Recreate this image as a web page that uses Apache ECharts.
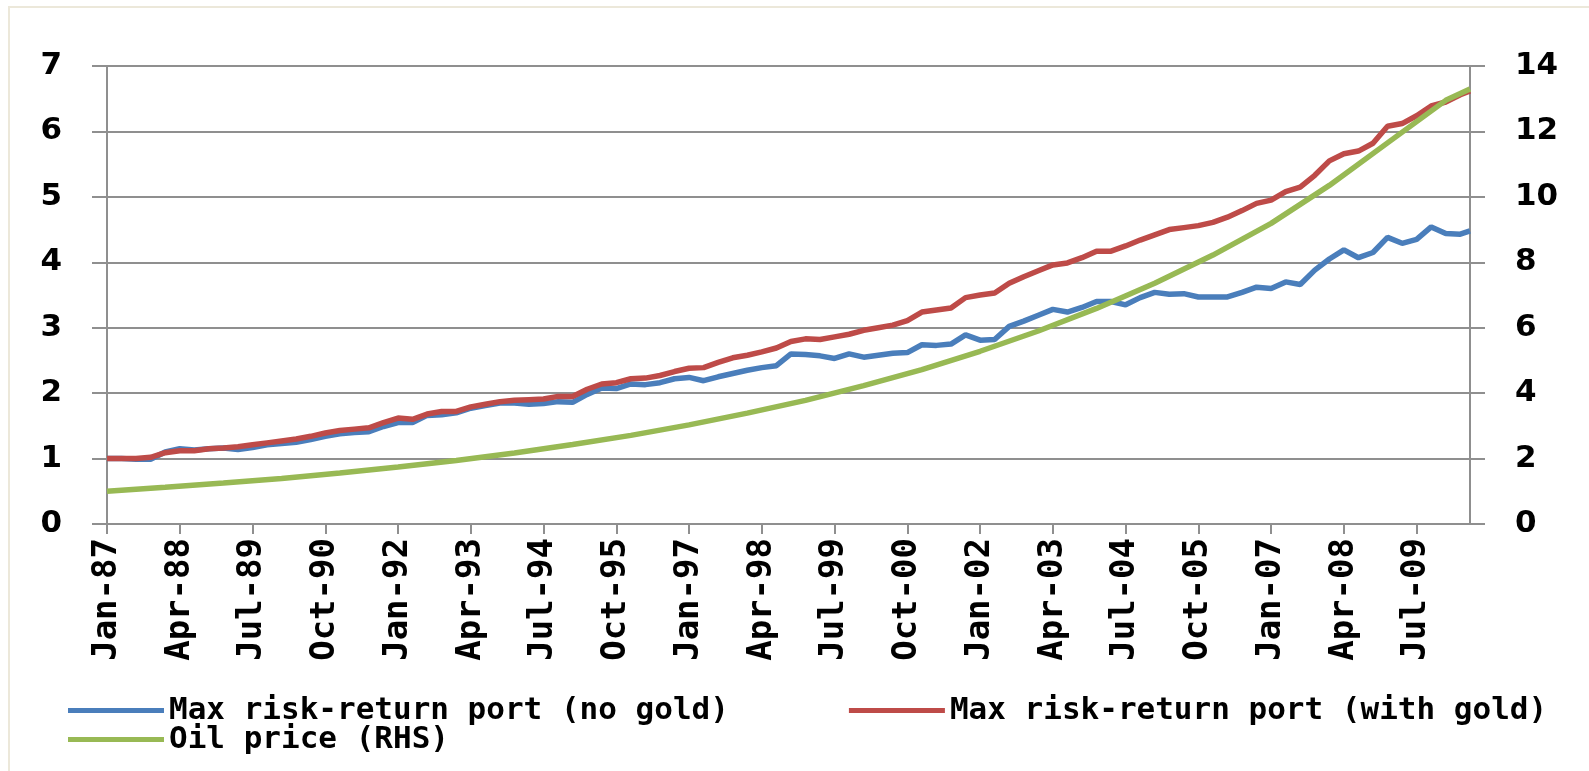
<!DOCTYPE html>
<html>
<head>
<meta charset="utf-8">
<title>Max risk-return portfolios vs oil price</title>
<script src="https://cdn.jsdelivr.net/npm/echarts@6.0.0/dist/echarts.min.js"></script>
<style>
  html, body { margin: 0; padding: 0; background: #fff; }
  #frame { position: absolute; left: 8px; top: 6px; right: 0; bottom: 0; border-left: 2px solid #ece8da; border-top: 2px solid #ece8da; }
  #chart { position: absolute; left: 0; top: 0; width: 1589px; height: 771px; }
</style>
</head>
<body>
<div id="frame"></div>
<div id="chart"></div>
<script>
// month index (0 = Jan-87) of each value
var readMonths = [
  0, 3, 6, 9, 12, 15, 18, 21, 24, 27, 30, 33, 36, 39, 42, 45, 48, 51, 54, 57,
  60, 63, 66, 69, 72, 75, 78, 81, 84, 87, 90, 93, 96, 99, 102, 105, 108, 111, 114, 117,
  120, 123, 126, 129, 132, 135, 138, 141, 144, 147, 150, 153, 156, 159, 162, 165, 168, 171, 174, 177,
  180, 183, 186, 189, 192, 195, 198, 201, 204, 207, 210, 213, 216, 219, 222, 225, 228, 231, 234, 237,
  240, 243, 246, 249, 252, 255, 258, 261, 264, 267, 270, 273, 276, 279, 281
];

var noGold = [
  1.00, 1.00, 0.99, 0.99, 1.10, 1.15, 1.13, 1.15, 1.16, 1.14,
  1.17, 1.21, 1.23, 1.25, 1.29, 1.34, 1.38, 1.40, 1.41, 1.49,
  1.55, 1.55, 1.66, 1.67, 1.70, 1.77, 1.81, 1.85, 1.85, 1.83,
  1.84, 1.87, 1.86, 1.98, 2.08, 2.07, 2.14, 2.13, 2.16, 2.22,
  2.24, 2.19, 2.25, 2.30, 2.35, 2.39, 2.42, 2.60, 2.59, 2.57,
  2.53, 2.60, 2.55, 2.58, 2.61, 2.62, 2.74, 2.73, 2.75, 2.89,
  2.81, 2.82, 3.02, 3.10, 3.19, 3.28, 3.24, 3.31, 3.40, 3.40,
  3.35, 3.46, 3.54, 3.51, 3.52, 3.47, 3.47, 3.47, 3.54, 3.62,
  3.60, 3.70, 3.66, 3.88, 4.05, 4.19, 4.07, 4.15, 4.38, 4.29,
  4.35, 4.54, 4.44, 4.43, 4.48
];

var withGold = [
  1.00, 1.00, 1.00, 1.02, 1.09, 1.12, 1.12, 1.15, 1.16, 1.18,
  1.21, 1.24, 1.27, 1.30, 1.34, 1.39, 1.43, 1.45, 1.47, 1.55,
  1.62, 1.60, 1.68, 1.72, 1.72, 1.79, 1.83, 1.87, 1.89, 1.90,
  1.91, 1.95, 1.95, 2.06, 2.14, 2.16, 2.22, 2.23, 2.27, 2.33,
  2.38, 2.39, 2.47, 2.54, 2.58, 2.63, 2.69, 2.79, 2.83, 2.82,
  2.86, 2.90, 2.96, 3.00, 3.04, 3.11, 3.24, 3.27, 3.30, 3.46,
  3.50, 3.53, 3.68, 3.78, 3.87, 3.96, 3.99, 4.07, 4.17, 4.17,
  4.25, 4.34, 4.42, 4.50, 4.53, 4.56, 4.61, 4.69, 4.79, 4.90,
  4.95, 5.08, 5.15, 5.33, 5.55, 5.66, 5.70, 5.82, 6.08, 6.12,
  6.24, 6.39, 6.45, 6.56, 6.62
];

// oil price (right axis), read once a year
var oilMonths = [0, 12, 24, 36, 48, 60, 72, 84, 96, 108, 120, 132, 144, 156, 168, 180, 192, 204, 216, 228, 240, 252, 264, 276, 281];
var oilPrice = [
  1.00, 1.12, 1.25, 1.39, 1.56, 1.74, 1.94, 2.17, 2.43, 2.71,
  3.03, 3.39, 3.78, 4.23, 4.72, 5.28, 5.90, 6.59, 7.36, 8.22,
  9.19, 10.35, 11.65, 12.95, 13.30
];

var seriesNames = [
  'Max risk-return port (no gold)',
  'Max risk-return port (with gold)',
  'Oil price (RHS)'
];
var colors = ['#4a7ebb', '#be4b48', '#98b954'];

// monthly categories Jan-87 .. Jun-10
var monthNames = ['Jan', 'Feb', 'Mar', 'Apr', 'May', 'Jun', 'Jul', 'Aug', 'Sep', 'Oct', 'Nov', 'Dec'];
var categories = [];
for (var m = 0; m <= 281; m++) {
  var yr = (1987 + Math.floor(m / 12)) % 100;
  categories.push(monthNames[m % 12] + '-' + (yr < 10 ? '0' + yr : '' + yr));
}

function pairs(xs, ys) {
  var out = [];
  for (var i = 0; i < ys.length; i++) out.push([xs[i], ys[i]]);
  return out;
}

var gridColor = '#8f8f8f';
var valueFont = { fontFamily: 'DejaVu Sans', fontWeight: 'bold', fontSize: 31, color: '#000' };
var dateFont = { fontFamily: 'DejaVu Sans Mono', fontWeight: 'bold', fontSize: 34, color: '#000' };
var legendText = { fontFamily: 'DejaVu Sans Mono', fontWeight: 'bold', fontSize: 31, color: '#000' };

var chart = echarts.init(document.getElementById('chart'));
chart.setOption({
  animation: false,
  color: colors,
  grid: { left: 107, right: 119, top: 66, bottom: 247 },
  legend: [
    {
      data: [seriesNames[0], seriesNames[1]],
      left: 63, top: 690,
      icon: 'rect', itemWidth: 96, itemHeight: 5, itemGap: 120,
      textStyle: legendText
    },
    {
      data: [seriesNames[2]],
      left: 63, top: 719,
      icon: 'rect', itemWidth: 96, itemHeight: 5,
      textStyle: legendText
    }
  ],
  xAxis: {
    type: 'category',
    data: categories,
    boundaryGap: false,
    axisLine: { lineStyle: { color: gridColor, width: 2 } },
    axisTick: { interval: 14, length: 10, lineStyle: { color: gridColor, width: 2 } },
    axisLabel: Object.assign({ interval: 14, rotate: 90, margin: 14 }, dateFont)
  },
  yAxis: [
    {
      type: 'value', min: 0, max: 7, interval: 1,
      axisLine: { show: true, lineStyle: { color: gridColor, width: 2 } },
      axisTick: { show: true, length: 15, lineStyle: { color: gridColor, width: 2 } },
      splitLine: { lineStyle: { color: gridColor, width: 2 } },
      axisLabel: Object.assign({ margin: 45 }, valueFont)
    },
    {
      type: 'value', min: 0, max: 14, interval: 2,
      axisLine: { show: true, lineStyle: { color: gridColor, width: 2 } },
      axisTick: { show: true, length: 15, lineStyle: { color: gridColor, width: 2 } },
      splitLine: { show: false },
      axisLabel: Object.assign({ margin: 45 }, valueFont)
    }
  ],
  series: [
    {
      name: seriesNames[0], type: 'line', yAxisIndex: 0,
      data: pairs(readMonths, noGold),
      showSymbol: false, lineStyle: { width: 5.5 }
    },
    {
      name: seriesNames[1], type: 'line', yAxisIndex: 0,
      data: pairs(readMonths, withGold),
      showSymbol: false, lineStyle: { width: 5.5 }
    },
    {
      name: seriesNames[2], type: 'line', yAxisIndex: 1,
      data: pairs(oilMonths, oilPrice),
      showSymbol: false, lineStyle: { width: 5.5 }
    }
  ]
});
</script>
</body>
</html>
